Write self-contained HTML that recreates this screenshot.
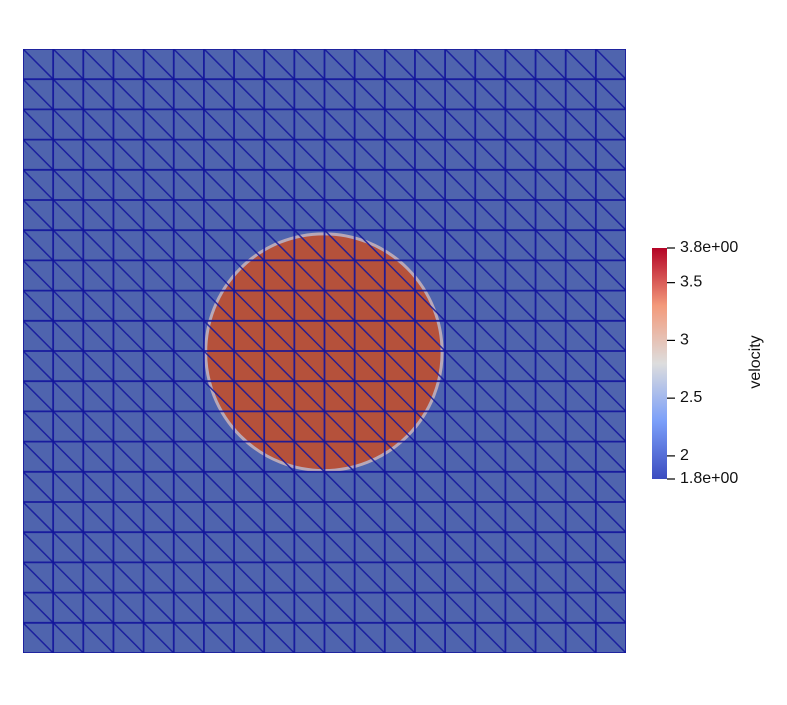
<!DOCTYPE html>
<html><head><meta charset="utf-8"><style>
html,body{margin:0;padding:0;background:#fff;}
svg{display:block;font-family:"Liberation Sans","DejaVu Sans",sans-serif;}
</style></head><body>
<svg id="c" width="787" height="705" viewBox="0 0 787 705" xmlns="http://www.w3.org/2000/svg">
<defs>
<linearGradient id="cmap" x1="0" y1="1" x2="0" y2="0">
<stop offset="0" stop-color="#3b4cc0"/>
<stop offset="0.25" stop-color="#7b9ff9"/>
<stop offset="0.5" stop-color="#dddddd"/>
<stop offset="0.75" stop-color="#f39a7b"/>
<stop offset="1" stop-color="#b40426"/>
</linearGradient>
<clipPath id="meshclip"><rect x="23" y="49" width="603" height="604"/></clipPath>
</defs>
<g id="mesh" clip-path="url(#meshclip)"></g>
<g id="cbar"></g>
</svg>
<script>
const cellsX = 20, cellsY = 20;
const blobCenter = [0.499, 0.502];
const blobRadius = 0.196;
const cbTickValues = [1.8, 2, 2.5, 3, 3.5, 3.8];
const cbTickLabels = ["1.8e+00", "2", "2.5", "3", "3.5", "3.8e+00"];
const cbRange = [1.8, 3.8];
const NS = "http://www.w3.org/2000/svg";
function mk(t, a, p){const e=document.createElementNS(NS,t);for(const k in a)e.setAttribute(k,a[k]);p.appendChild(e);return e;}
const X0=23,Y0=49,W=603,H=604;
const sx=v=>X0+v*W, sy=v=>Y0+v*H;
const mesh=document.getElementById('mesh');
const bg=mk('rect',{x:X0,y:Y0,width:W,height:H,fill:'#4f64ae'},mesh);


const blob=mk('ellipse',{cx:sx(blobCenter[0]),cy:sy(blobCenter[1]),rx:blobRadius*W,ry:blobRadius*H,fill:'#b5513b',stroke:'#b8a8b8','stroke-width':3},mesh);


const cw=W/cellsX, ch=H/cellsY;
const LC='#13159c';
for(let i=0;i<=cellsX;i++){
  const l=mk('line',{x1:X0+i*cw,y1:Y0,x2:X0+i*cw,y2:Y0+H,stroke:LC,'stroke-width':1.8,opacity:0.9},mesh);
  
  
}
for(let j=0;j<=cellsY;j++){
  const l=mk('line',{x1:X0,y1:Y0+j*ch,x2:X0+W,y2:Y0+j*ch,stroke:LC,'stroke-width':1.8,opacity:0.9},mesh);
  
  
}
for(let i=0;i<cellsX;i++)for(let j=0;j<cellsY;j++){
  const l=mk('line',{x1:X0+i*cw,y1:Y0+j*ch,x2:X0+(i+1)*cw,y2:Y0+(j+1)*ch,stroke:LC,'stroke-width':1.5,opacity:0.85},mesh);
  
  
}
const cb=document.getElementById('cbar');
const CBX=652,CBW=15,CBT=248,CBB=479;
const cy=v=>CBB-(v-cbRange[0])/(cbRange[1]-cbRange[0])*(CBB-CBT);
const r=mk('rect',{x:CBX,y:CBT,width:CBW,height:CBB-CBT,fill:'url(#cmap)'},cb);


cbTickValues.forEach((v,i)=>{
  const y=cy(v);
  const t=mk('line',{x1:CBX+CBW,y1:y,x2:CBX+CBW+8,y2:y,stroke:'#000','stroke-width':1.2},cb);
  
  
  const tx=mk('text',{x:CBX+CBW+13,y:y+4,'font-size':16,fill:'#111'},cb);
  tx.textContent=cbTickLabels[i];
  
  
});
const title=mk('text',{x:0,y:0,'font-size':16,fill:'#111','text-anchor':'middle',transform:'translate(760,362) rotate(-90)'},cb);
title.textContent='velocity';


</script>
</body></html>
